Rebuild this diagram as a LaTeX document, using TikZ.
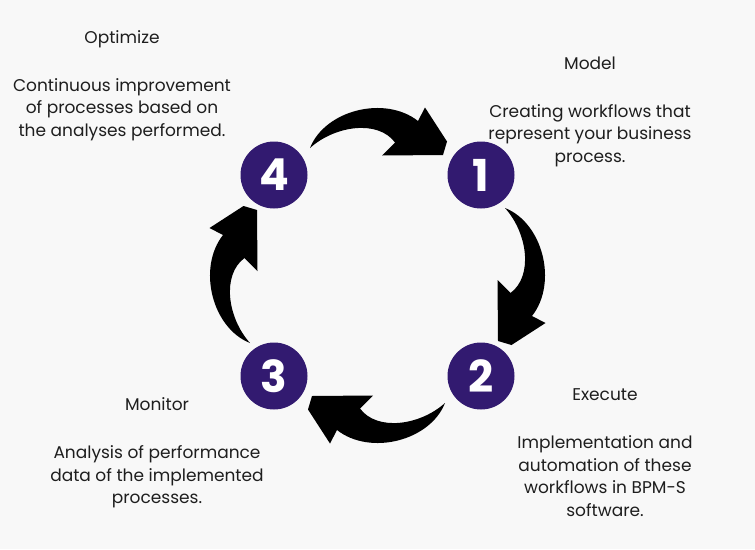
\documentclass[tikz,border=0pt]{standalone}
\usepackage{fontspec}
\setmainfont{Poppins}
\definecolor{bg}{RGB}{248,248,248}
\definecolor{purp}{RGB}{50,26,112}
\definecolor{txt}{RGB}{30,30,30}
\begin{document}
\begin{tikzpicture}[x=1pt,y=-1pt,
  stepnum/.style={circle,fill=purp,minimum size=67pt,inner sep=0pt,text=white,
    font=\fontsize{44}{44}\selectfont\bfseries},
  desc/.style={align=center,font=\fontsize{17}{22.5}\selectfont,inner sep=0pt,text=txt},
  bigarrow/.pic={\fill[black] (-67.5,-127.5)
      .. controls (-52.5,-165.5) and (7.5,-180.5) .. (40.5,-154.5)
      -- (47.5,-168) -- (69.5,-134) -- (65.5,-120.5) -- (4.5,-120)
      -- (17.5,-133)
      .. controls (0.5,-156) and (-42.5,-150) .. (-67.5,-127.5) -- cycle;}]
\fill[bg] (0,0) rectangle (755,549);
\useasboundingbox (0,0) rectangle (755,549);
\coordinate (C) at (377.5,275.5);
\node[stepnum] (n1) at (481,175) {1};
\node[stepnum] (n2) at (481,376) {2};
\node[stepnum] (n3) at (274,376) {3};
\node[stepnum] (n4) at (274,175) {4};
\pic[rotate=0] at (C) {bigarrow};
\pic[rotate=-90] at (C) {bigarrow};
\pic[rotate=-180] at (C) {bigarrow};
\pic[rotate=90] at (C) {bigarrow};
\node[desc] (t4) at (122,85.5) {Optimize\\[25.5pt]Continuous improvement\\of processes based on\\the analyses performed.};
\node[desc] (t1) at (590,111.5) {Model\\[25.5pt]Creating workflows that\\represent your business\\process.};
\node[desc] (t3) at (157,453) {Monitor\\[25.5pt]Analysis of performance\\data of the implemented\\processes.};
\node[desc] (t2) at (605,452.5) {Execute\\[25.5pt]Implementation and\\automation of these\\workflows in BPM-S\\software.};
\end{tikzpicture}
\end{document}
